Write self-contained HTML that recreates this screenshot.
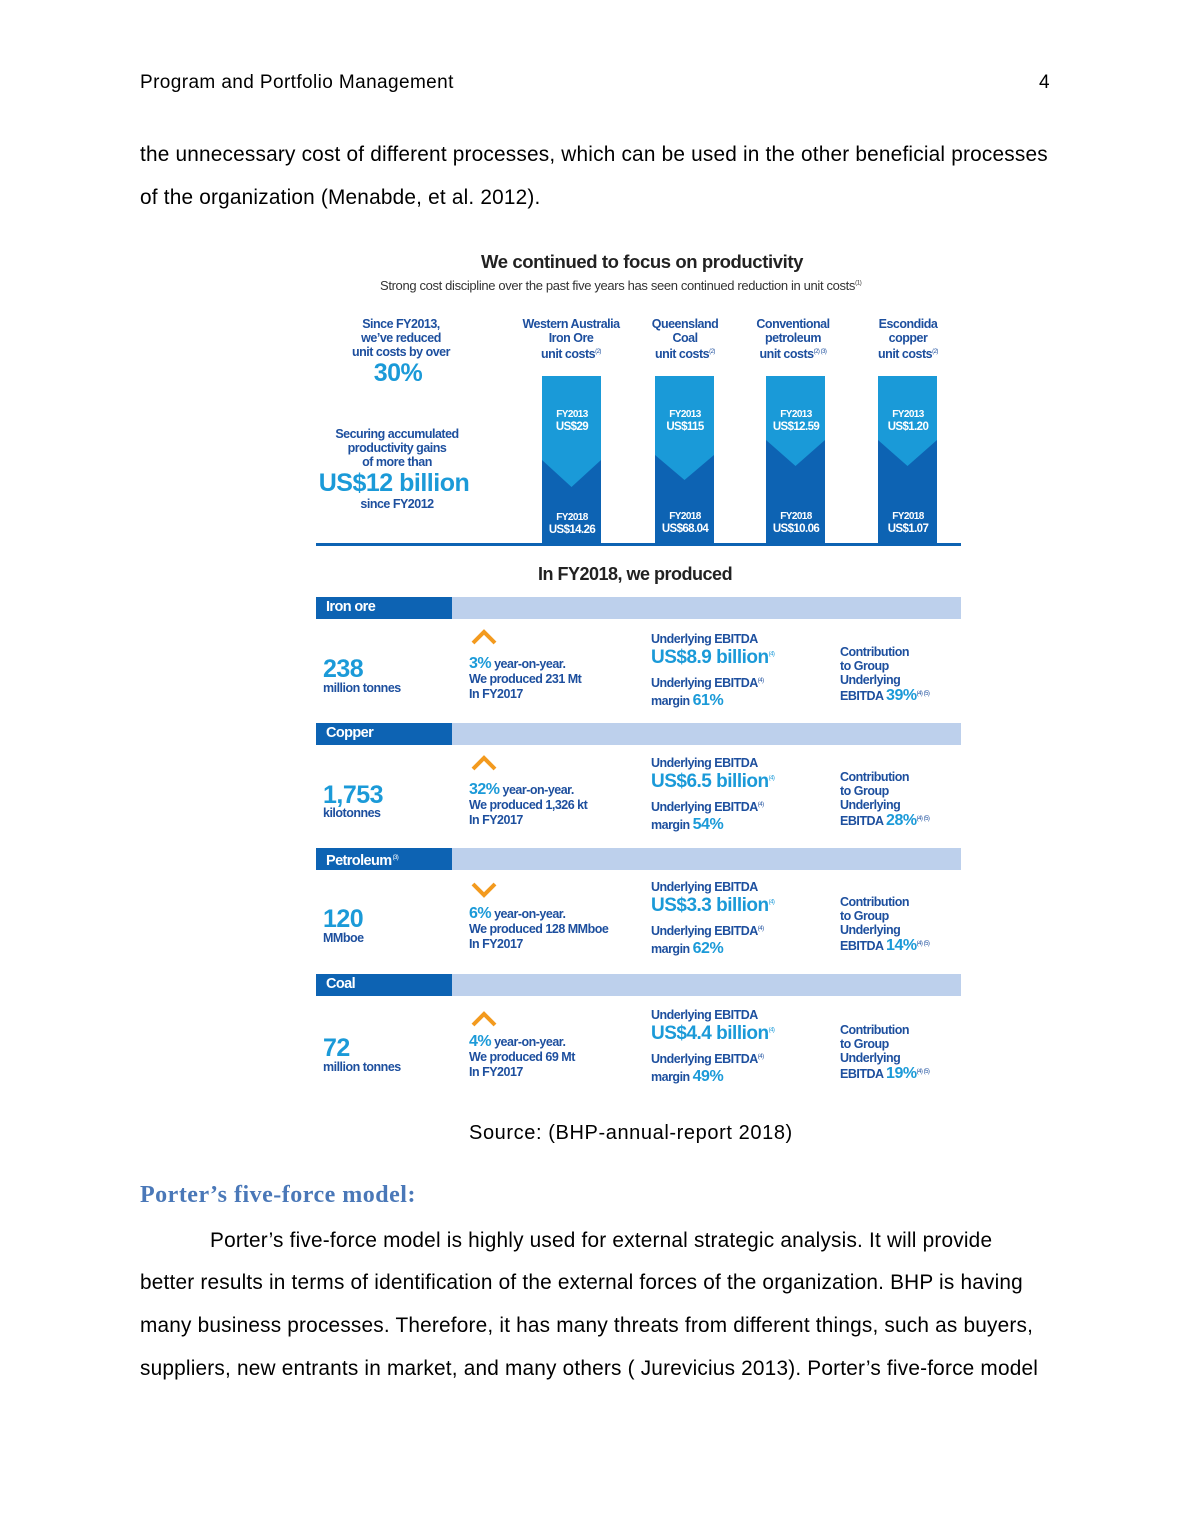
<!DOCTYPE html>
<html><head><meta charset="utf-8"><style>
body{margin:0;background:#fff;}
#p{position:relative;width:1190px;height:1540px;font-family:"Liberation Sans",sans-serif;color:#000;overflow:hidden}
.a{position:absolute;white-space:nowrap}
.t{font-size:20.8px;letter-spacing:0.2px}
.n{color:#1d4f9e;font-weight:bold;font-size:12.5px;letter-spacing:-0.5px;line-height:14px}
.c{text-align:center}
.w{color:#fff;font-weight:bold;font-size:10px;letter-spacing:-0.6px;line-height:13px;text-align:center}
.lb{color:#1b9ad8;font-weight:bold;letter-spacing:-0.5px}
.hd{position:absolute;left:316px;width:645px;height:22px;background:#bdd0ec}
.hd div{position:absolute;left:0;top:0;width:136px;height:22px;background:#0d63b3;color:#fff;font-weight:bold;font-size:14.5px;letter-spacing:-0.6px;line-height:20px;padding-left:10px;box-sizing:border-box}
sup{font-size:6px;font-weight:normal}
</style></head><body><div id="p">
<div class="a t" style="left:140px;top:72px;font-size:19px;letter-spacing:0.4px">Program and Portfolio Management</div>
<div class="a t" style="left:1039px;top:72px;font-size:19px">4</div>
<div class="a t" style="left:140px;top:143px">the unnecessary cost of different processes, which can be used in the other beneficial processes</div>
<div class="a t" style="left:140px;top:186px">of the organization (Menabde, et al. 2012).</div>

<div class="a" style="left:481px;top:251px;font-weight:bold;font-size:18.5px;letter-spacing:-0.4px;color:#222">We continued to focus on productivity</div>
<div class="a" style="left:380px;top:278px;font-size:13px;letter-spacing:-0.35px;color:#333">Strong cost discipline over the past five years has seen continued reduction in unit costs<sup>(1)</sup></div>

<div class="a n c" style="left:316px;top:317px;width:170px">Since FY2013,<br>we’ve reduced<br>unit costs by over</div>
<div class="a c lb" style="left:316px;top:359px;width:164px;font-size:25px">30%</div>
<div class="a n c" style="left:312px;top:427px;width:170px">Securing accumulated<br>productivity gains<br>of more than</div>
<div class="a c lb" style="left:312px;top:469px;width:164px;font-size:25px">US$12 billion</div>
<div class="a n c" style="left:312px;top:497px;width:170px">since FY2012</div>

<div class="a n c" style="left:506px;top:317px;width:130px">Western Australia<br>Iron Ore<br>unit costs<sup>(2)</sup></div>
<div class="a n c" style="left:620px;top:317px;width:130px">Queensland<br>Coal<br>unit costs<sup>(2)</sup></div>
<div class="a n c" style="left:728px;top:317px;width:130px">Conventional<br>petroleum<br>unit costs<sup>(2) (3)</sup></div>
<div class="a n c" style="left:843px;top:317px;width:130px">Escondida<br>copper<br>unit costs<sup>(2)</sup></div>

<svg class="a" style="left:0;top:0" width="1190" height="560">
<g><rect x="542" y="376" width="59" height="169" fill="#0d63b3"/><polygon points="542,376 601,376 601,460 571.5,487 542,460" fill="#1a9ad8"/></g>
<g><rect x="655" y="376" width="59" height="169" fill="#0d63b3"/><polygon points="655,376 714,376 714,455 684.5,480 655,455" fill="#1a9ad8"/></g>
<g><rect x="766" y="376" width="59" height="169" fill="#0d63b3"/><polygon points="766,376 825,376 825,440 795.5,466 766,440" fill="#1a9ad8"/></g>
<g><rect x="878" y="376" width="59" height="169" fill="#0d63b3"/><polygon points="878,376 937,376 937,440 907.5,466 878,440" fill="#1a9ad8"/></g>
<rect x="316" y="543" width="645" height="3" fill="#0d63b3"/>
</svg>
<div class="a w" style="left:532px;top:408px;width:80px">FY2013<br><span style="font-size:11.5px">US$29</span></div>
<div class="a w" style="left:645px;top:408px;width:80px">FY2013<br><span style="font-size:11.5px">US$115</span></div>
<div class="a w" style="left:756px;top:408px;width:80px">FY2013<br><span style="font-size:11.5px">US$12.59</span></div>
<div class="a w" style="left:868px;top:408px;width:80px">FY2013<br><span style="font-size:11.5px">US$1.20</span></div>
<div class="a w" style="left:532px;top:511px;width:80px">FY2018<br><span style="font-size:11.5px">US$14.26</span></div>
<div class="a w" style="left:645px;top:510px;width:80px">FY2018<br><span style="font-size:11.5px">US$68.04</span></div>
<div class="a w" style="left:756px;top:510px;width:80px">FY2018<br><span style="font-size:11.5px">US$10.06</span></div>
<div class="a w" style="left:868px;top:510px;width:80px">FY2018<br><span style="font-size:11.5px">US$1.07</span></div>

<div class="a" style="left:538px;top:564px;font-weight:bold;font-size:18px;letter-spacing:-0.5px;color:#222">In FY2018, we produced</div>

<div class="hd" style="top:597px"><div>Iron ore</div></div>
<div class="hd" style="top:723px"><div>Copper</div></div>
<div class="hd" style="top:848px"><div>Petroleum<sup> (3)</sup></div></div>
<div class="hd" style="top:974px"><div>Coal</div></div>

<svg class="a" style="left:0;top:0" width="1190" height="1100" fill="none" stroke="#f39a1e" stroke-width="4">
<polyline points="473,643 484,632 495,643"/>
<polyline points="473,769 484,758 495,769"/>
<polyline points="473,884 484,895 495,884"/>
<polyline points="473,1025 484,1014 495,1025"/>
</svg>

<div class="a lb" style="left:323px;top:655px;font-size:25px">238</div>
<div class="a n" style="left:323px;top:681px">million tonnes</div>
<div class="a n" style="left:469px;top:656px;line-height:15px"><span class="lb" style="font-size:16px">3%</span> year-on-year.<br>We produced 231 Mt<br>In FY2017</div>
<div class="a n" style="left:651px;top:632px">Underlying EBITDA</div>
<div class="a lb" style="left:651px;top:647px;font-size:19px">US$8.9 billion<sup>(4)</sup></div>
<div class="a n" style="left:651px;top:673px;line-height:17px">Underlying EBITDA<sup>(4)</sup><br>margin <span class="lb" style="font-size:16px">61%</span></div>
<div class="a n" style="left:840px;top:645px">Contribution<br>to Group<br>Underlying<br>EBITDA <span class="lb" style="font-size:16px">39%</span><sup>(4) (5)</sup></div>

<div class="a lb" style="left:323px;top:781px;font-size:25px">1,753</div>
<div class="a n" style="left:323px;top:806px">kilotonnes</div>
<div class="a n" style="left:469px;top:782px;line-height:15px"><span class="lb" style="font-size:16px">32%</span> year-on-year.<br>We produced 1,326 kt<br>In FY2017</div>
<div class="a n" style="left:651px;top:756px">Underlying EBITDA</div>
<div class="a lb" style="left:651px;top:771px;font-size:19px">US$6.5 billion<sup>(4)</sup></div>
<div class="a n" style="left:651px;top:797px;line-height:17px">Underlying EBITDA<sup>(4)</sup><br>margin <span class="lb" style="font-size:16px">54%</span></div>
<div class="a n" style="left:840px;top:770px">Contribution<br>to Group<br>Underlying<br>EBITDA <span class="lb" style="font-size:16px">28%</span><sup>(4) (5)</sup></div>

<div class="a lb" style="left:323px;top:905px;font-size:25px">120</div>
<div class="a n" style="left:323px;top:931px">MMboe</div>
<div class="a n" style="left:469px;top:906px;line-height:15px"><span class="lb" style="font-size:16px">6%</span> year-on-year.<br>We produced 128 MMboe<br>In FY2017</div>
<div class="a n" style="left:651px;top:880px">Underlying EBITDA</div>
<div class="a lb" style="left:651px;top:895px;font-size:19px">US$3.3 billion<sup>(4)</sup></div>
<div class="a n" style="left:651px;top:921px;line-height:17px">Underlying EBITDA<sup>(4)</sup><br>margin <span class="lb" style="font-size:16px">62%</span></div>
<div class="a n" style="left:840px;top:895px">Contribution<br>to Group<br>Underlying<br>EBITDA <span class="lb" style="font-size:16px">14%</span><sup>(4) (5)</sup></div>

<div class="a lb" style="left:323px;top:1034px;font-size:25px">72</div>
<div class="a n" style="left:323px;top:1060px">million tonnes</div>
<div class="a n" style="left:469px;top:1034px;line-height:15px"><span class="lb" style="font-size:16px">4%</span> year-on-year.<br>We produced 69 Mt<br>In FY2017</div>
<div class="a n" style="left:651px;top:1008px">Underlying EBITDA</div>
<div class="a lb" style="left:651px;top:1023px;font-size:19px">US$4.4 billion<sup>(4)</sup></div>
<div class="a n" style="left:651px;top:1049px;line-height:17px">Underlying EBITDA<sup>(4)</sup><br>margin <span class="lb" style="font-size:16px">49%</span></div>
<div class="a n" style="left:840px;top:1023px">Contribution<br>to Group<br>Underlying<br>EBITDA <span class="lb" style="font-size:16px">19%</span><sup>(4) (5)</sup></div>

<div class="a t" style="left:469px;top:1122px;font-size:20px;letter-spacing:0.6px">Source: (BHP-annual-report 2018)</div>
<div class="a" style="left:140px;top:1182px;font-family:'Liberation Serif',serif;font-weight:bold;font-size:24px;letter-spacing:0.5px;color:#4a78b8">Porter’s five-force model:</div>
<div class="a t" style="left:210px;top:1229px">Porter’s five-force model is highly used for external strategic analysis. It will provide</div>
<div class="a t" style="left:140px;top:1271px">better results in terms of identification of the external forces of the organization. BHP is having</div>
<div class="a t" style="left:140px;top:1314px">many business processes. Therefore, it has many threats from different things, such as buyers,</div>
<div class="a t" style="left:140px;top:1357px">suppliers, new entrants in market, and many others ( Jurevicius 2013). Porter’s five-force model</div>
</div></body></html>
